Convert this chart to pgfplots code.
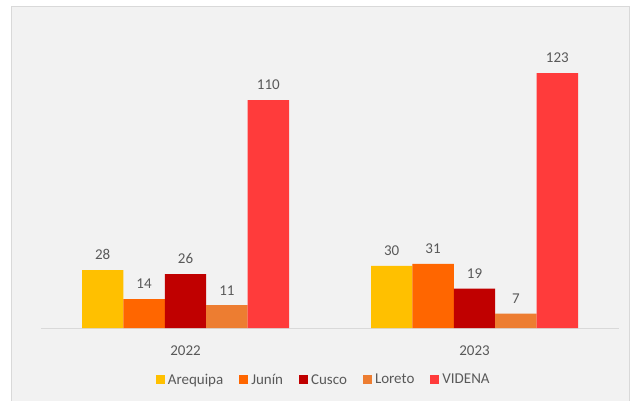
\documentclass[border=0pt]{standalone}
\usepackage{fontspec}
\setmainfont{Carlito}
\usepackage{pgfplots}
\pgfplotsset{compat=1.18}
\definecolor{panel}{HTML}{F2F2F2}
\definecolor{bordercol}{HTML}{D9D9D9}
\definecolor{txt}{HTML}{595959}
\definecolor{cAre}{HTML}{FFC000}
\definecolor{cJun}{HTML}{FF6600}
\definecolor{cCus}{HTML}{C00000}
\definecolor{cLor}{HTML}{ED7D31}
\definecolor{cVid}{HTML}{FF3B3B}
\begin{document}
\begin{tikzpicture}[x=1pt,y=1pt]
\useasboundingbox (0,0) rectangle (633,400);
\fill[panel] (11,-2) rectangle (629.5,393);
\draw[bordercol, line width=1pt] (11,-2) -- (11,393) -- (629.5,393) -- (629.5,-2);
\begin{axis}[
  at={(41pt,72pt)}, anchor=south west,
  scale only axis, width=578pt, height=290pt,
  ybar=0pt, bar width=41.4pt,
  xmin=-0.5, xmax=1.5, ymin=0, ymax=140,
  enlargelimits=false, clip=false,
  axis x line*=bottom, hide y axis,
  axis line style={bordercol, line width=1pt},
  x axis line style={-},
  xtick={0,1}, xticklabels={2022,2023},
  major tick length=0pt,
  xticklabel style={anchor=north, inner sep=0pt, yshift=-18pt, text=txt, font=\fontsize{15}{18}\selectfont},
  /pgf/number format/assume math mode=true,
  nodes near coords,
  every node near coord/.append style={anchor=south, inner sep=0pt, yshift=10pt, text=txt, font=\fontsize{15}{18}\selectfont},
  legend columns=5,
  legend style={at={(0.49,-0.179)}, anchor=center, draw=none, fill=none,
    font=\fontsize{15}{18}\selectfont, text=txt,
    /tikz/every even column/.append style={column sep=13pt},
    nodes={inner sep=3pt}},
  legend image code/.code={\fill[#1] (0pt,-4.5pt) rectangle (9pt,4.5pt);},
]
\addplot[fill=cAre, draw=none] coordinates {(0,28) (1,30)};
\addplot[fill=cJun, draw=none] coordinates {(0,14) (1,31)};
\addplot[fill=cCus, draw=none] coordinates {(0,26) (1,19)};
\addplot[fill=cLor, draw=none] coordinates {(0,11) (1,7)};
\addplot[fill=cVid, draw=none] coordinates {(0,110) (1,123)};
\legend{Arequipa, Junín, Cusco, Loreto, VIDENA}
\end{axis}
\end{tikzpicture}
\end{document}
